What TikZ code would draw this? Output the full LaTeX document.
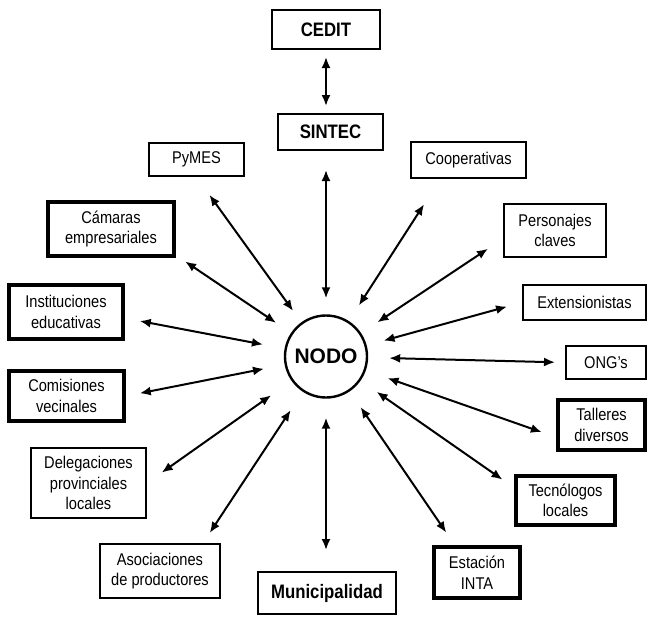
\documentclass[tikz,border=0pt]{standalone}
\usepackage{fontspec}
\setmainfont{Liberation Sans}[FakeStretch=0.86]
\newfontfamily\nodofont{Liberation Sans}
\usepackage{tikz}
\usetikzlibrary{arrows.meta}

\begin{document}
\begin{tikzpicture}[x=1pt,y=-1pt]
  \tikzset{
    box/.style={draw, rectangle, line width=2.4pt, align=center, inner sep=0pt, font=\fontsize{17}{20.5}\selectfont},
    heavy/.style={box, line width=4pt},
    key/.style={box, font=\fontsize{19.5}{22}\selectfont\bfseries},
    hub/.style={draw, circle, line width=2.4pt, minimum size=82pt, font=\nodofont\fontsize{21}{24}\selectfont\bfseries},
    line/.style={draw, {Latex[length=11pt,width=9pt]}-{Latex[length=11pt,width=9pt]}, line width=2pt},
  }
  \useasboundingbox (0,0) rectangle (648,616);
  \node [hub] (nodo) at (326,356.5) {NODO};
  \node [key, minimum width=107.6pt, minimum height=38.6pt] (cedit) at (326,29.5) {CEDIT};
  \node [key, minimum width=104.6pt, minimum height=35.6pt] (sintec) at (330.5,132) {SINTEC};
  \node [key, minimum width=137.6pt, minimum height=41.6pt] (muni) at (327,593) {Municipalidad};
  % left side
  \node [box, minimum width=94.6pt, minimum height=32.6pt] (pymes) at (196.5,159.5) {PyMES};
  \node [heavy, minimum width=126pt, minimum height=54pt] (cam) at (111,229) {Cámaras\\empresariales};
  \node [heavy, minimum width=114pt, minimum height=54pt] (inst) at (66,312) {Instituciones\\educativas};
  \node [heavy, minimum width=115pt, minimum height=50pt] (com) at (66.5,396) {Comisiones\\vecinales};
  \node [box, minimum width=114.6pt, minimum height=69.6pt] (del) at (88.5,483) {Delegaciones\\provinciales\\locales};
  \node [box, minimum width=119.6pt, minimum height=53.6pt] (asoc) at (160,571) {Asociaciones\\de productores};
  % right side
  \node [box, minimum width=114.6pt, minimum height=35.6pt] (coop) at (468.5,160) {Cooperativas};
  \node [box, minimum width=101.6pt, minimum height=52.6pt] (pers) at (555,230.5) {Personajes\\claves};
  \node [box, minimum width=122.6pt, minimum height=34.6pt] (ext) at (584.5,302.5) {Extensionistas};
  \node [box, minimum width=79.6pt, minimum height=32.6pt] (ong) at (606,362.5) {ONG's};
  \node [heavy, minimum width=87pt, minimum height=50pt] (tal) at (601.5,425) {Talleres\\diversos};
  \node [heavy, minimum width=99pt, minimum height=49pt] (tec) at (565.5,500.5) {Tecnólogos\\locales};
  \node [heavy, minimum width=86pt, minimum height=51pt] (est) at (477,572.5) {Estación\\INTA};

  \path [line, shorten <=7pt, shorten >=7pt] (cedit) -- (cedit |- sintec.north);
  \path [line, shorten <=16pt, shorten >=19pt] (nodo) -- (nodo |- sintec.south);
  \path [line, shorten <=19pt, shorten >=21pt] (nodo) -- (nodo |- muni.north);
  \path [line, shorten <=14pt, shorten >=22pt] (nodo) -- (pymes.south);
  \path [line, shorten <=18pt, shorten >=11pt] (nodo) -- (cam.-22);
  \path [line, shorten <=22pt, shorten >=15pt] (nodo) -- (inst.-6);
  \path [line, shorten <=21pt, shorten >=14pt] (nodo) -- (com.east);
  \path [line, shorten <=25pt, shorten >=18pt] (nodo) -- (del.east);
  \path [line, shorten <=22pt, shorten >=12pt] (nodo) -- (asoc.33);
  \path [line, shorten <=18.5pt, shorten >=30pt] (nodo) -- (coop.214);
  \path [line, shorten <=19.5pt, shorten >=18pt] (nodo) -- (pers.189);
  \path [line, shorten <=17.5pt, shorten >=15.5pt] (nodo) -- (ext.west);
  \path [line, shorten <=21pt, shorten >=10pt] (nodo) -- (ong.west);
  \path [line, shorten <=23pt, shorten >=15pt] (nodo) -- (tal.195);
  \path [line, shorten <=19.5pt, shorten >=14pt] (nodo) -- (tec.166);
  \path [line, shorten <=19pt, shorten >=15pt] (nodo) -- (est.129);
\end{tikzpicture}
\end{document}
